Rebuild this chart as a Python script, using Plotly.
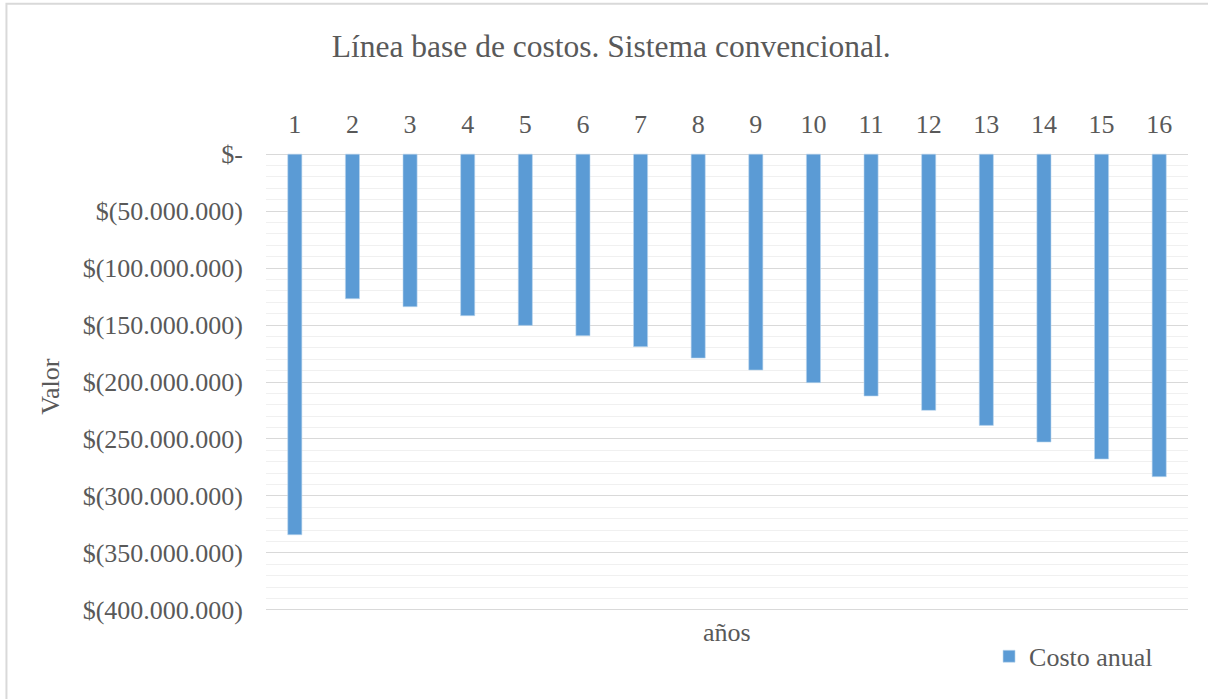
import plotly.graph_objects as go

# Annual cost baseline, conventional system (COP)
years = list(range(1, 17))
annual_cost = [-334.1e6, -126.9e6, -133.9e6, -141.8e6, -150.3e6, -159.4e6, -169.0e6, -179.0e6,
               -189.5e6, -200.6e6, -212.3e6, -224.9e6, -238.1e6, -252.7e6, -267.6e6, -283.1e6]

y_tick_vals = [0, -50e6, -100e6, -150e6, -200e6, -250e6, -300e6, -350e6, -400e6]
y_tick_text = ["$-", "$(50.000.000)", "$(100.000.000)", "$(150.000.000)", "$(200.000.000)",
               "$(250.000.000)", "$(300.000.000)", "$(350.000.000)", "$(400.000.000)"]
x_tick_text = [str(y) for y in years]

FONT = "Liberation Serif"
TXT = "#595959"
BLUE = "#5b9bd5"

fig = go.Figure()
fig.add_trace(go.Bar(
    x=years, y=annual_cost, name="Costo anual", width=0.245,
    marker=dict(color=BLUE, line=dict(color="#bdd7ee", width=0.6)),
))

fig.update_layout(
    width=1208, height=699,
    margin=dict(l=266, r=20, t=153, b=88),
    paper_bgcolor="white", plot_bgcolor="white",
    font=dict(family=FONT, size=26, color=TXT),
    title=dict(text="Línea base de costos. Sistema convencional.", x=0.506, xref="container",
               xanchor="center", y=0.934, yanchor="middle",
               font=dict(family=FONT, size=31.5, color=TXT)),
    showlegend=True,
    legend=dict(x=0.9675, xanchor="right", y=-0.099, yanchor="middle",
                font=dict(family=FONT, size=26, color=TXT), bgcolor="rgba(0,0,0,0)",
                itemwidth=30),
    bargap=0.75,
)

fig.update_xaxes(
    side="top", range=[0.5, 16.5], tickmode="array", tickvals=years, ticktext=x_tick_text,
    showgrid=False, zeroline=False, showline=False, ticks="", ticklabelstandoff=14,
    tickfont=dict(family=FONT, size=26, color=TXT),
)
fig.update_yaxes(
    range=[-401e6, 1e6], tickmode="array", tickvals=y_tick_vals, ticktext=y_tick_text,
    showgrid=True, gridcolor="#d9d9d9", gridwidth=1.3, zeroline=False, showline=False,
    ticks="", ticklabelstandoff=22,
    tickfont=dict(family=FONT, size=26, color=TXT),
    minor=dict(dtick=10e6, tick0=0, showgrid=True, gridcolor="#f0f0f0", gridwidth=1.3),
)

# axis titles
fig.add_annotation(text="años", xref="paper", yref="paper", x=0.5, y=-0.048,
                   showarrow=False, xanchor="center", yanchor="middle",
                   font=dict(family=FONT, size=26, color=TXT))
fig.add_annotation(text="Valor", xref="paper", yref="paper", x=-0.234, y=0.49,
                   showarrow=False, textangle=-90, xanchor="center", yanchor="middle",
                   font=dict(family=FONT, size=26, color=TXT))

# chart area border (top and left edges visible)
fig.add_shape(type="rect", xref="paper", yref="paper",
              x0=-0.2815, y0=-0.4, x1=1.2, y1=1.3257,
              line=dict(color="#d9d9d9", width=2), fillcolor="rgba(0,0,0,0)", layer="below")

fig.write_html("out.html")
